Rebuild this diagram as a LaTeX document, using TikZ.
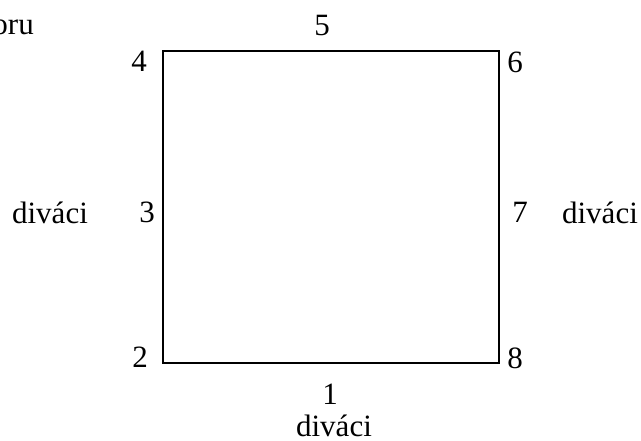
\documentclass[tikz,border=0pt]{standalone}
\usepackage{fontspec}
\setmainfont{Liberation Serif}
\begin{document}
\begin{tikzpicture}[x=1pt,y=-1pt,
  lbl/.style={anchor=base,inner sep=0pt,font=\fontsize{31}{34}\selectfont},
  field/.style={draw=black,line width=2pt}]
\useasboundingbox (0,0) rectangle (641,441);
\begin{scope}
\clip (0,0) rectangle (641,441);
\node[lbl,anchor=base east] (oru) at (34,35) {oru};
\end{scope}
\draw[field] (163,51) rectangle (499,363);
\node[lbl] (n5) at (322,36) {5};
\node[lbl] (n4) at (139,72) {4};
\node[lbl] (n6) at (515,73) {6};
\node[lbl] (n3) at (147,223) {3};
\node[lbl] (dl) at (50,224) {diváci};
\node[lbl] (n7) at (520,223) {7};
\node[lbl] (dr) at (600,224) {diváci};
\node[lbl] (n2) at (140,367) {2};
\node[lbl] (n8) at (515,368) {8};
\node[lbl] (n1) at (330,404) {1};
\node[lbl] (db) at (334,436) {diváci};
\end{tikzpicture}
\end{document}
